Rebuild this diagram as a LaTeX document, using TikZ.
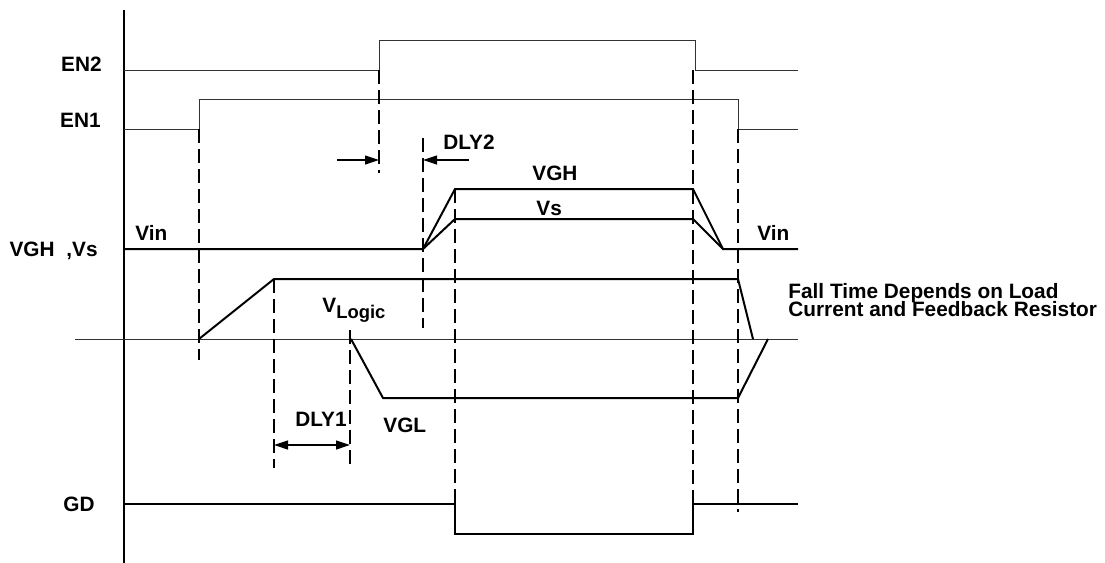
\documentclass[tikz,border=0pt]{standalone}
\usepackage{fontspec}
\setmainfont{Liberation Sans}
\usetikzlibrary{arrows.meta}

\tikzset{
  sig/.style={line width=1pt},
  thinsig/.style={line width=0.5pt, black!80},
  guide/.style={line width=0.6pt, dash pattern=on 7pt off 3pt},
  lbl/.style={font=\fontsize{10.4}{12}\selectfont\bfseries, inner sep=0pt},
}

\begin{document}
\begin{tikzpicture}[x=0.5pt,y=-0.5pt,>={Triangle[length=7pt,width=4.5pt]}]
    \useasboundingbox (0,0) rectangle (1105,563);
    % axes
    \draw[sig] (124,10) -- (124,563);
    \draw[thinsig] (75,339) -- (798,339);
    % enable signals
    \draw[thinsig] (124,70) -- (379,70) -- (379,40) -- (695,40) -- (695,70) -- (798,70);
    \draw[thinsig] (124,129) -- (199,129) -- (199,99) -- (738,99) -- (738,129) -- (798,129);
    % VGH and Vs
    \draw[sig] (124,249) -- (423,249) -- (455,189) -- (693,189) -- (723,249) -- (798,249);
    \draw[sig] (423,249) -- (455,219) -- (693,219) -- (723,249);
    % VLogic and VGL
    \draw[sig] (199,339) -- (274,279) -- (738,279) -- (753,339);
    \draw[sig] (351,339) -- (383,398) -- (738,398) -- (768,339);
    % GD
    \draw[sig] (124,504) -- (455,504) -- (455,534) -- (693,534) -- (693,504) -- (798,504);
    % timing guides
    \draw[guide] (199,129) -- (199,360);
    \draw[guide] (274,279) -- (274,468);
    \draw[guide] (350,330) -- (350,468);
    \draw[guide] (379,70) -- (379,173);
    \draw[guide] (423,138) -- (423,328);
    \draw[guide] (455,189) -- (455,504);
    \draw[guide] (693,70) -- (693,504);
    \draw[guide] (738,129) -- (738,512);
    % delays
    \coordinate (d1a) at (274,445);
    \coordinate (d1b) at (350,445);
    \coordinate (d2a) at (337,160);
    \coordinate (d2b) at (379,160);
    \coordinate (d2c) at (469,160);
    \coordinate (d2d) at (423,160);
    \draw[<->, line width=0.6pt] (d1a) -- (d1b);
    \draw[->, line width=0.6pt] (d2a) -- (d2b);
    \draw[->, line width=0.6pt] (d2c) -- (d2d);
    % labels
    \node[lbl, anchor=base east] (en2) at (102,71) {EN2};
    \node[lbl, anchor=base east] (en1) at (101,127) {EN1};
    \node[lbl, anchor=base east] (vghvs) at (98,256) {VGH\hspace{3pt} ,Vs};
    \node[lbl, anchor=base east] (gd) at (95,511) {GD};
    \node[lbl, anchor=base west] (vinl) at (135,240) {Vin};
    \node[lbl, anchor=base west] (vinr) at (757,240) {Vin};
    \node[lbl, anchor=base west] (vgh) at (532,180) {VGH};
    \node[lbl, anchor=base west] (vs) at (536,215) {Vs};
    \node[lbl, anchor=base west] (vlogic) at (322,312) {V\raisebox{-3pt}{\fontsize{9.2}{11}\selectfont Logic}};
    \node[lbl, anchor=base west] (vgl) at (383,432) {VGL};
    \node[lbl, anchor=base west] (dly1) at (295,426) {DLY1};
    \node[lbl, anchor=base west] (dly2) at (443,149) {DLY2};
    \node[lbl, anchor=base west] (fall1) at (788,298) {Fall Time Depends on Load};
    \node[lbl, anchor=base west] (fall2) at (788,316) {Current and Feedback Resistor};
\end{tikzpicture}
\end{document}
